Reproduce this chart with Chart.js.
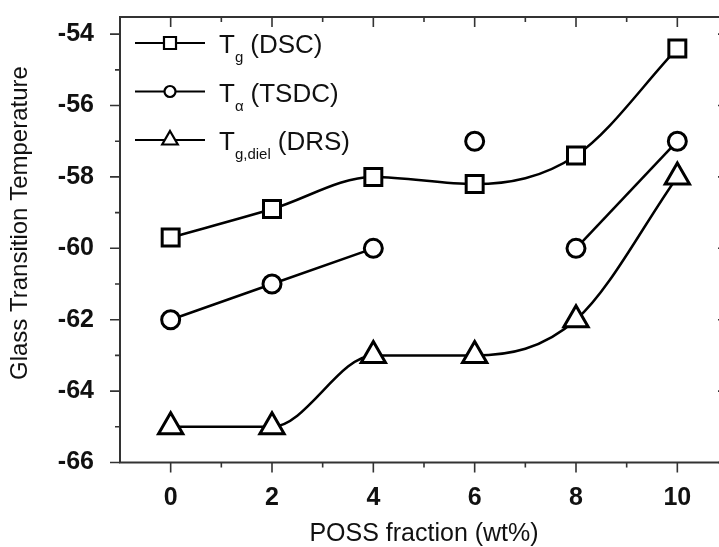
<!DOCTYPE html>
<html>
<head>
<meta charset="utf-8">
<script src="https://cdn.jsdelivr.net/npm/chart.js@4.4.1/dist/chart.umd.min.js"></script>
<style>
  html, body { margin: 0; padding: 0; background: #fff; overflow: hidden; }
  #wrap { width: 719px; height: 547px; overflow: hidden; }
</style>
</head>
<body>
<div id="wrap"><canvas id="chart" width="745" height="547"></canvas></div>
<script>
// POSS fraction (wt%)
const xs = [0, 2, 4, 6, 8, 10];
const tgDsc = [-59.7, -58.9, -58.0, -58.2, -57.4, -54.4];
const tAlpha = [-62, -61, -60, -57, -60, -57];
const tgDiel = [-65, -65, -63, -63, -62, -58];

const xTickLabels = [0, 2, 4, 6, 8, 10];
const yTickLabels = [-66, -64, -62, -60, -58, -56, -54];

const FONT = '"Liberation Sans", Arial, Helvetica, sans-serif';

const legendItems = [
    { main: 'T', sub: 'g', rest: '(DSC)', style: 'rect', radius: 8.5 },
    { main: 'T', sub: 'α', rest: '(TSDC)', style: 'circle', radius: 5.5 },
    { main: 'T', sub: 'g,diel', rest: '(DRS)', style: 'triangle', radius: 9 }
];

const pts = vals => xs.map((x, i) => ({ x: x, y: vals[i] }));

// frame with inward / outward ticks + the legend with subscripts
const framePlugin = {
    id: 'frame',
    afterDraw(chart) {
        const { ctx, chartArea: a, scales: { x, y } } = chart;
        ctx.save();
        ctx.strokeStyle = '#333';
        ctx.lineWidth = 2;
        ctx.strokeRect(a.left, a.top, a.right - a.left, a.bottom - a.top);

        ctx.lineWidth = 1.6;
        ctx.beginPath();
        for (let v = 0; v <= 10; v++) {
            const px = x.getPixelForValue(v);
            const len = v % 2 === 0 ? 10 : 5;
            ctx.moveTo(px, a.bottom); ctx.lineTo(px, a.bottom + len);
            ctx.moveTo(px, a.top); ctx.lineTo(px, a.top + len);
        }
        for (let v = -66; v <= -54; v++) {
            const py = y.getPixelForValue(v);
            const len = v % 2 === 0 ? 10 : 5;
            ctx.moveTo(a.left - len, py); ctx.lineTo(a.left, py);
            ctx.moveTo(a.right - len, py); ctx.lineTo(a.right, py);
        }
        ctx.stroke();

        // legend
        legendItems.forEach((item, i) => {
            const rowY = a.top + 26 + i * 48.5;
            const lx = a.left;
            ctx.strokeStyle = '#000';
            ctx.lineWidth = 2.2;
            ctx.beginPath();
            ctx.moveTo(lx + 15, rowY); ctx.lineTo(lx + 85, rowY);
            ctx.stroke();
            ctx.fillStyle = '#fff';
            Chart.helpers.drawPoint(ctx, { pointStyle: item.style, radius: item.radius, rotation: 0, borderWidth: 2.2 }, lx + 50, rowY);

            ctx.fillStyle = '#111';
            ctx.textBaseline = 'alphabetic';
            ctx.textAlign = 'left';
            let tx = lx + 99;
            const base = rowY + 10;
            ctx.font = '26px ' + FONT;
            ctx.fillText(item.main, tx, base);
            tx += ctx.measureText(item.main).width;
            ctx.font = '15px ' + FONT;
            ctx.fillText(item.sub, tx, base + 9);
            tx += ctx.measureText(item.sub).width + 7;
            ctx.font = '26px ' + FONT;
            ctx.fillText(item.rest, tx, base);
        });
        ctx.restore();
    }
};

const line = {
    borderColor: '#000',
    backgroundColor: '#fff',
    pointBackgroundColor: '#fff',
    pointBorderColor: '#000',
    pointBorderWidth: 3,
    borderWidth: 2.5
};

new Chart(document.getElementById('chart'), {
    type: 'line',
    data: {
        datasets: [
            Object.assign({
                label: 'Tg (DSC)',
                data: pts(tgDsc),
                pointStyle: 'rect',
                pointRadius: 12,
                cubicInterpolationMode: 'monotone'
            }, line),
            Object.assign({
                label: 'Tα (TSDC)',
                data: pts(tAlpha),
                pointStyle: 'circle',
                pointRadius: 9,
                tension: 0,
                segment: {
                    borderColor: c => (c.p0DataIndex === 2 || c.p0DataIndex === 3) ? 'transparent' : '#000'
                }
            }, line),
            Object.assign({
                label: 'Tg,diel (DRS)',
                data: pts(tgDiel),
                pointStyle: 'triangle',
                pointRadius: 14,
                cubicInterpolationMode: 'monotone'
            }, line)
        ]
    },
    options: {
        responsive: false,
        devicePixelRatio: 1,
        animation: false,
        layout: { padding: { top: 13, right: 13, left: 0, bottom: 0 } },
        plugins: { legend: { display: false }, tooltip: { enabled: false } },
        scales: {
            x: {
                type: 'linear',
                min: -1,
                max: 11,
                afterBuildTicks: s => { s.ticks = xTickLabels.map(v => ({ value: v })); },
                afterFit: s => {
                    s.height = 84.5;
                    s.paddingLeft = 0;
                    s.paddingRight = 0;
                },
                grid: { display: false, drawTicks: false },
                border: { display: false },
                ticks: {
                    padding: 21,
                    color: '#111',
                    font: { family: FONT, size: 25, weight: 'bold' }
                },
                title: {
                    display: true,
                    text: 'POSS fraction (wt%)',
                    color: '#111',
                    padding: { top: 0, bottom: 0 },
                    font: { family: FONT, size: 25, lineHeight: 1 }
                }
            },
            y: {
                type: 'linear',
                min: -66,
                max: -53.52,
                afterBuildTicks: s => { s.ticks = yTickLabels.map(v => ({ value: v })); },
                afterFit: s => {
                    s.width = 120;
                    s.paddingTop = 0;
                    s.paddingBottom = 0;
                },
                grid: { display: false, drawTicks: false },
                border: { display: false },
                ticks: {
                    padding: 26,
                    color: '#111',
                    font: { family: FONT, size: 25, weight: 'bold' }
                },
                title: {
                    display: true,
                    text: '\u00a0\u00a0\u00a0\u00a0\u00a0Glass Transition Temperature',
                    color: '#111',
                    padding: { top: 8, bottom: 0 },
                    font: { family: FONT, size: 24, lineHeight: 1 }
                }
            }
        }
    },
    plugins: [framePlugin]
});
</script>
</body>
</html>
